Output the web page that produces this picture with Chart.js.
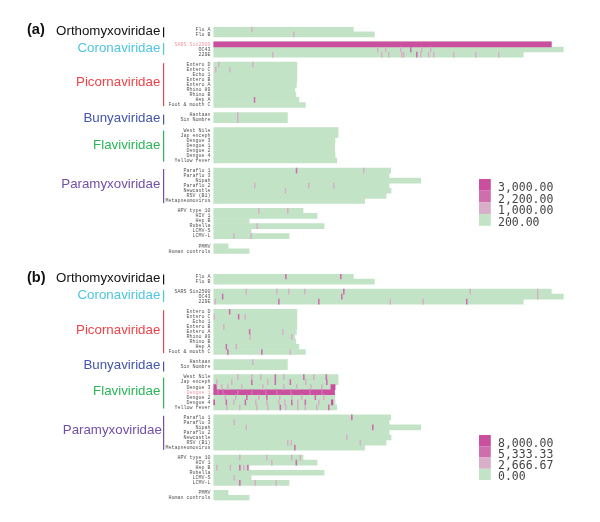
<!DOCTYPE html>
<html><head><meta charset="utf-8">
<script src="https://cdn.jsdelivr.net/npm/chart.js@4"></script>
<style>html,body{margin:0;background:#fff}canvas{position:absolute;left:0}</style>
</head><body>
<canvas id="a" width="600" height="262" style="top:0"></canvas>
<canvas id="b" width="600" height="260" style="top:262px"></canvas>
<script>
// ---- rows and family groups
const orthomyxo = ["Flu A","Flu B"];
const corona = ["SARS Sin2500","OC43","229E"];
const picorna = ["Entero D","Entero C","Echo 1","Entero B","Entero A","Rhino 89","Rhino B","Hep A","Foot & mouth C"];
const bunya = ["Hantaan","Sin Nombre"];
const flavi = ["West Nile","Jap enceph","Dengue 3","Dengue 1","Dengue 2","Dengue 4","Yellow fever"];
const paramyxo = ["Paraflu 1","Paraflu 3","Nipah","Paraflu 2","Newcastle","RSV (B1)","Metapneumovirus"];
const others = ["HPV type 10","HIV 1","Hep B","Rubella","LCMV-S","LCMV-L"];
const controls = ["PMMV","Human controls"];
const rowGroups = [orthomyxo,corona,picorna,bunya,flavi,paramyxo,others,controls];

// ---- genome lengths per group
const lenOrthomyxo = [140,161];
const lenCorona = [338,350,310];
const lenPicorna = [83.5,83.5,83.5,83.5,83,81.5,82.5,85.5,92];
const lenBunya = [74,74];
const lenFlavi = [124.7,124.7,121.7,121.2,121.2,121.7,123.4];
const lenParamyxo = [177.4,175.7,207.4,175.7,177.7,172.7,151.4];
const lenOthers = [89.7,103.7,35.7,110.7,37.7,75.7];
const lenControls = [14.7,35.7];
const lenGroups = [lenOrthomyxo,lenCorona,lenPicorna,lenBunya,lenFlavi,lenParamyxo,lenOthers,lenControls];

// ---- families
const familyNames = ["Orthomyxoviridae","Coronaviridae","Picornaviridae","Bunyaviridae","Flaviviridae","Paramyxoviridae"];
const familyColors = ["#111111","#4fc5e0","#f0424a","#4455aa","#2bb559","#7350a8"];
const familyRows = [orthomyxo,corona,picorna,bunya,flavi,paramyxo];

// ---- colours
const GREEN="#c3e3c6", LIGHT="#d8aec8", MID="#cf6eaf", DARK="#cb4f9f";

// ---- panel (a): [row, position]
const legendA = ["3,000.00","2,200.00","1,000.00","200.00"];
const fullA = [["SARS Sin2500",0,338]];
const lightA = [["Entero D",5],["Entero D",39],["Entero C",16],["Entero C",2],["Flu A",38],["Flu B",80],["229E",59],["OC43",164],["OC43",172],["OC43",187],["OC43",208],["OC43",217],["229E",168],["229E",175],["229E",188],["229E",190],["229E",207],["229E",215],["229E",220],["229E",240],["229E",262],["229E",285],["Paraflu 1",150],["Paraflu 2",95],["Paraflu 2",120],["Paraflu 2",41],["Newcastle",71.7],["HPV type 10",45],["HPV type 10",74],["LCMV-L",20],["LCMV-L",37.4],["Rubella",43.4],["Hantaan",24],["Sin Nombre",24]];
const midA = [["Hep A",40.7],["Paraflu 1",82.7],["OC43",197],["229E",203]];
const darkA = [];

// ---- panel (b): [row, position]
const legendB = ["8,000.00","5,333.33","2,666.67","0.00"];
const fullB = [["Dengue 1",0,121.2],["Dengue 3",0,3],["Dengue 3",117.5,121.7],["Dengue 4",118,119.5],["Dengue 4",0,1.2]];
const lightB = [["SARS Sin2500",32.5],["SARS Sin2500",63],["SARS Sin2500",75],["SARS Sin2500",91],["SARS Sin2500",256.5],["SARS Sin2500",324],["OC43",324],["229E",1.5],["229E",176.5],["229E",209.5],["Entero C",0.5],["Entero C",31.5],["Entero B",10],["Entero A",69],["Rhino 89",78],["Rhino 89",36.5],["Hep A",22.5],["Foot & mouth C",76.5],["Hantaan",39],["Yellow fever",13],["Yellow fever",54],["Yellow fever",91.5],["Yellow fever",26],["Yellow fever",43],["Yellow fever",72],["Yellow fever",84],["Yellow fever",103],["Dengue 4",20],["Dengue 4",53],["Dengue 4",65],["Dengue 4",42],["Dengue 4",71],["Dengue 4",84],["Dengue 4",105],["Dengue 2",11.5],["Dengue 2",22],["Dengue 2",45],["Dengue 2",66],["Dengue 2",78],["Dengue 2",88],["Dengue 2",110],["Dengue 3",8],["Dengue 3",14],["Dengue 3",28],["Dengue 3",49],["Dengue 3",70],["Dengue 3",83],["Dengue 3",97],["Dengue 3",108],["West Nile",24],["West Nile",38],["West Nile",47],["West Nile",70],["West Nile",100],["Jap enceph",3],["Jap enceph",18],["Jap enceph",54],["Jap enceph",92],["Paraflu 3",20.5],["Nipah",32.5],["Newcastle",133],["RSV (B1)",74],["RSV (B1)",77.5],["RSV (B1)",146.5],["HPV type 10",26],["HPV type 10",53],["HPV type 10",78],["HPV type 10",86.5],["HIV 1",58],["Hep B",3],["Hep B",16.5],["Hep B",30],["LCMV-S",20.5],["LCMV-L",41.5],["LCMV-L",62.5]];
const midB = [["Flu A",72],["Flu A",127],["SARS Sin2500",130],["OC43",8.8],["OC43",128],["229E",65],["229E",105],["229E",253],["Entero D",15.8],["Entero C",24.8],["Entero A",35.8],["Hep A",12.5],["Foot & mouth C",14],["Foot & mouth C",48],["West Nile",61.5],["West Nile",90],["West Nile",112.5],["Jap enceph",38],["Jap enceph",61.5],["Jap enceph",76.5],["Jap enceph",113],["Dengue 2",33],["Dengue 2",53],["Dengue 2",101.5],["Dengue 4",12.5],["Dengue 4",31.5],["Dengue 4",78],["Dengue 4",91.5],["Yellow fever",66.5],["Yellow fever",115],["Paraflu 1",138],["Nipah",159],["Metapneumovirus",81],["HIV 1",82.5],["Hep B",26],["Hep B",34],["LCMV-L",26]];
const darkB = [];
const paleOnFullB = [["Dengue 1",4],["Dengue 1",9],["Dengue 1",24],["Dengue 1",38],["Dengue 1",52],["Dengue 1",63],["Dengue 1",77],["Dengue 1",96],["Dengue 1",108]];

// ---- shared row list with a blank row between groups
const rowLabels=[], rowLens={};
rowGroups.forEach((g,gi)=>{
  g.forEach((r,i)=>{rowLabels.push(r);rowLens[r]=lenGroups[gi][i];});
  if(gi<rowGroups.length-1) rowLabels.push(" ".repeat(gi+1));
});
const dataRows = rowGroups.flat();

const stripes=(list,w)=>list.map(h=>({x:[h[1],h[1]+w],y:h[0]}));
const spans=(list)=>list.map(h=>({x:[h[1],h[2]],y:h[0]}));
const ds=(data,color)=>({data,backgroundColor:color,grouped:false,barPercentage:1,categoryPercentage:1,borderWidth:0});

function panel(id,o){
  const topPad=o.top, rowsH=o.rowsH, cv=document.getElementById(id);
  const barTop=[-2,-1.5,-1.5,-0.5,0.5,-1.5], barBottom=[2.9,0.3,1.2,4.4,1.2,2.3], labelDy=[-0.5,-0.9,-2,0.7,-0.4,-1.7];
  const overlay={id:"overlay",afterDraw(c){
    const ctx=c.ctx,y=c.scales.y;
    ctx.save();
    familyNames.forEach((n,i)=>{
      const rows=familyRows[i];
      const c0=y.getPixelForValue(rowLabels.indexOf(rows[0]));
      const c1=y.getPixelForValue(rowLabels.indexOf(rows[rows.length-1]));
      ctx.fillStyle=familyColors[i];
      ctx.fillRect(163,c0+barTop[i],1.2,c1+barBottom[i]-c0-barTop[i]);
      ctx.font="13.3px 'Liberation Sans'";
      ctx.textAlign="right";ctx.textBaseline="middle";
      ctx.fillText(n,160.3+(o.labelShift[i]||0),(c0+c1)/2+labelDy[i]);
    });
    ctx.fillStyle="#111";
    ctx.font="bold 14.6px 'Liberation Sans'";
    ctx.textAlign="left";ctx.textBaseline="middle";
    ctx.fillText(o.tag,27,o.tagY);
    [DARK,MID,LIGHT,GREEN].forEach((col,i)=>{
      ctx.fillStyle=col;
      ctx.fillRect(479,o.legTop+i*o.legStep,11.8,o.legStep);
      ctx.fillStyle="#444";
      ctx.font="11.5px 'DejaVu Sans Mono'";
      ctx.fillText(o.legend[i],498,o.legTop+i*o.legStep+o.legStep/2+3);
    });
    ctx.restore();
  }};
  new Chart(cv,{
    type:"bar",
    data:{labels:rowLabels,datasets:[
      ds(stripes(o.pale||[],1),MID),
      ds(stripes(o.light,0.8),LIGHT),
      ds(stripes(o.mid,0.9),MID),
      ds(stripes(o.dark,1),DARK),
      ds(spans(o.full),DARK),
      ds(dataRows.map(r=>({x:[0,rowLens[r]],y:r})),GREEN)
    ]},
    options:{
      indexAxis:"y",responsive:false,animation:false,events:[],
      layout:{padding:{top:topPad,bottom:cv.height-topPad-rowsH,left:0,right:6.7}},
      plugins:{legend:{display:false},tooltip:{enabled:false}},
      scales:{
        x:{type:"linear",min:0,max:380,display:false},
        y:{type:"category",grid:{display:false,drawTicks:false},border:{display:false},
           afterFit(s){s.width=213.4},
           ticks:{autoSkip:false,maxRotation:0,minRotation:0,padding:3,
             font:{family:"'Liberation Mono'",size:5},
             color:(t)=>t.tick&&t.tick.label===o.highlight?"#f29aa3":"#555"}}
      }
    },
    plugins:[overlay]
  });
}
panel("a",{top:26.8,rowsH:227,tag:"(a)",tagY:30,legend:legendA,full:fullA,light:lightA,mid:midA,dark:darkA,highlight:"SARS Sin2500",legTop:179,legStep:11.7,labelShift:[]});
panel("b",{top:12,rowsH:226.4,tag:"(b)",tagY:15.5,legend:legendB,full:fullB,light:lightB,mid:midB,dark:darkB,pale:paleOnFullB,highlight:"Dengue 1",legTop:173,legStep:11.25,labelShift:[0,0,0,0,0,1.5]});
</script>
</body></html>
